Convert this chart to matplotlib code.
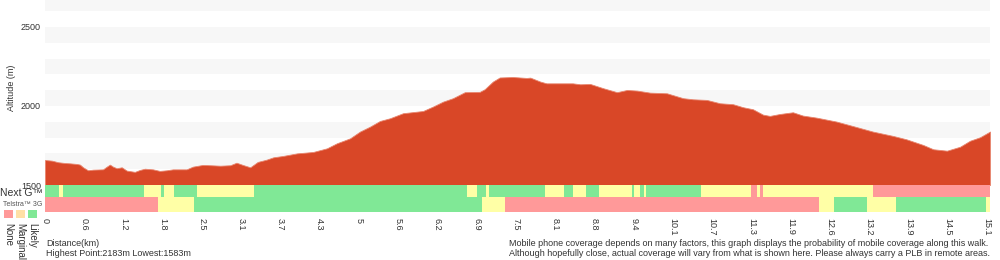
import matplotlib.pyplot as plt
import numpy as np

plt.rcParams['font.family'] = ['Liberation Sans', 'DejaVu Sans']

# elevation profile (km, m)
dist_km = [0, 0.11, 0.21, 0.32, 0.40, 0.51, 0.56, 0.61, 0.69, 0.77, 0.93, 0.99, 1.04, 1.09,
           1.15, 1.23, 1.31, 1.44, 1.52, 1.60, 1.73, 1.84, 1.95, 2.05, 2.27, 2.37, 2.53, 2.65,
           2.81, 2.97, 3.07, 3.17, 3.29, 3.41, 3.55, 3.66, 3.82, 3.93, 4.04, 4.30, 4.52, 4.68,
           4.89, 5.05, 5.21, 5.37, 5.53, 5.74, 6.06, 6.22, 6.38, 6.54, 6.73, 6.97, 7.05, 7.18,
           7.29, 7.50, 7.72, 7.78, 7.94, 8.04, 8.46, 8.58, 8.74, 8.95, 9.17, 9.33, 9.49, 9.70,
           9.97, 10.23, 10.39, 10.61, 10.82, 11.03, 11.19, 11.35, 11.51, 11.62, 11.78, 11.99,
           12.15, 12.37, 12.69, 12.95, 13.27, 13.60, 13.81, 14.08, 14.24, 14.46, 14.67, 14.83,
           14.99, 15.15]
elev_m = [1658, 1654, 1644, 1639, 1637, 1633, 1629, 1612, 1593, 1597, 1599, 1616, 1629, 1616,
          1606, 1612, 1591, 1583, 1595, 1603, 1599, 1589, 1593, 1599, 1599, 1616, 1627, 1625,
          1622, 1625, 1641, 1627, 1612, 1646, 1660, 1675, 1684, 1692, 1700, 1709, 1732, 1764,
          1795, 1838, 1869, 1905, 1922, 1954, 1968, 1996, 2027, 2049, 2087, 2089, 2106, 2154,
          2180, 2183, 2177, 2179, 2154, 2143, 2143, 2137, 2139, 2112, 2087, 2101, 2097, 2084,
          2080, 2049, 2042, 2038, 2017, 2011, 1992, 1979, 1945, 1937, 1949, 1960,
          1939, 1926, 1901, 1873, 1838, 1810, 1789, 1753, 1726, 1717, 1742, 1780,
          1802, 1838]

# coverage: segment boundaries (km) and status per segment
nextg_edges = [0, 0.22, 0.29, 1.59, 1.86, 1.91, 2.07, 2.44, 3.35, 6.77, 6.93, 7.07, 7.12, 8.02,
               8.32, 8.46, 8.67, 8.88, 9.41, 9.44, 9.54, 9.60, 9.64, 10.52, 11.32, 11.41, 11.46,
               11.51, 13.27, 15.15]
nextg_status = ['L', 'M', 'L', 'M', 'L', 'M', 'L', 'M', 'L', 'M', 'L', 'M', 'L', 'M',
                'L', 'M', 'L', 'M', 'L', 'M', 'L', 'M', 'L', 'M', 'N', 'M', 'N',
                'M', 'N']
g3_edges = [0, 1.81, 2.39, 7.01, 7.37, 12.41, 12.65, 13.18, 13.64, 15.09, 15.15]
g3_status = ['N', 'M', 'L', 'M', 'N', 'M', 'L', 'M', 'L', 'M']

tick_labels = ['0', '0.6', '1.2', '1.8', '2.5', '3.1', '3.7', '4.3', '5', '5.6', '6.2', '6.9',
               '7.5', '8.1', '8.8', '9.4', '10.1', '10.7', '11.3', '11.9', '12.6', '13.2',
               '13.9', '14.5', '15.1']

colors = {'N': '#FF9999', 'M': '#FFFFA6', 'L': '#80E896'}
legend_colors = ['#FF9999', '#FFE0A6', '#80E896']
legend_names = ['None', 'Marginal', 'Likely']

total_km = 15.15
text_col = '#333333'

fig = plt.figure(figsize=(10, 2.6), dpi=100)
ax = fig.add_axes([0.045, 1 - 185 / 260, 0.945, 185 / 260])
cov = fig.add_axes([0.045, 1 - 212 / 260, 0.945, 27 / 260], sharex=ax)

# elevation
ymax = 2670
for lo in range(1600, ymax, 200):
    ax.axhspan(lo, lo + 100, color='#F7F7F7', lw=0, zorder=0)
ax.fill_between(dist_km, 1500, elev_m, color='#D94727', lw=0.6, edgecolor='#E8866F', zorder=2)
ax.set_xlim(0, total_km)
ax.set_ylim(1500, ymax)
ax.set_yticks([1500, 2000, 2500])
ax.tick_params(axis='y', length=0, pad=3, labelsize=6.5, labelcolor=text_col)
ax.tick_params(axis='x', length=0, labelbottom=False)
for s in ax.spines.values():
    s.set_visible(False)
fig.text(0.012, 1 - 88 / 260, 'Altitude (m)', rotation=90, fontsize=6.5, color=text_col,
         ha='center', va='center')

# coverage rows
def draw_row(edges, status, y, h):
    for i, st in enumerate(status):
        cov.barh(y, edges[i + 1] - edges[i], left=edges[i], height=h, align='edge',
                 color=colors[st], lw=0)

draw_row(nextg_edges, nextg_status, 15, 12)
draw_row(g3_edges, g3_status, 0, 15)
cov.set_ylim(0, 27)
cov.set_yticks([])
for s in cov.spines.values():
    s.set_visible(False)
cov.set_xticks(np.linspace(0, 15.1, len(tick_labels)))
cov.set_xticklabels(tick_labels, rotation=-90, fontsize=6.5, color=text_col)
cov.tick_params(axis='x', length=0, pad=4)

# left labels
fig.text(0.0, 1 - 193 / 260, 'Next G™', fontsize=7.5, color=text_col, va='center')
fig.text(0.003, 1 - 204 / 260, 'Telstra™ 3G', fontsize=5, color='#555555', va='center')
for i, (c, name) in enumerate(zip(legend_colors, legend_names)):
    x0 = (4 + 12 * i) / 1000
    fig.patches.append(plt.Rectangle((x0, 1 - 218 / 260), 8.5 / 1000, 8 / 260,
                                     transform=fig.transFigure, color=c, lw=0))
    fig.text(x0 + 4.5 / 1000, 1 - 223 / 260, name, rotation=-90, fontsize=7,
             color=text_col, ha='center', va='top')

# bottom texts
fig.text(0.046, 1 - 243 / 260, 'Distance(km)', fontsize=6.5, color=text_col, va='center')
fig.text(0.046, 1 - 253 / 260, 'Highest Point:2183m Lowest:1583m', fontsize=6.5,
         color=text_col, va='center')
fig.text(0.509, 1 - 244 / 260,
         'Mobile phone coverage depends on many factors, this graph displays the probability '
         'of mobile coverage along this walk.', fontsize=6.5, color=text_col, va='center')
fig.text(0.509, 1 - 254 / 260,
         'Although hopefully close, actual coverage will vary from what is shown here. '
         'Please always carry a PLB in remote areas.', fontsize=6.5, color=text_col, va='center')

fig.savefig('out.png', dpi=100)
